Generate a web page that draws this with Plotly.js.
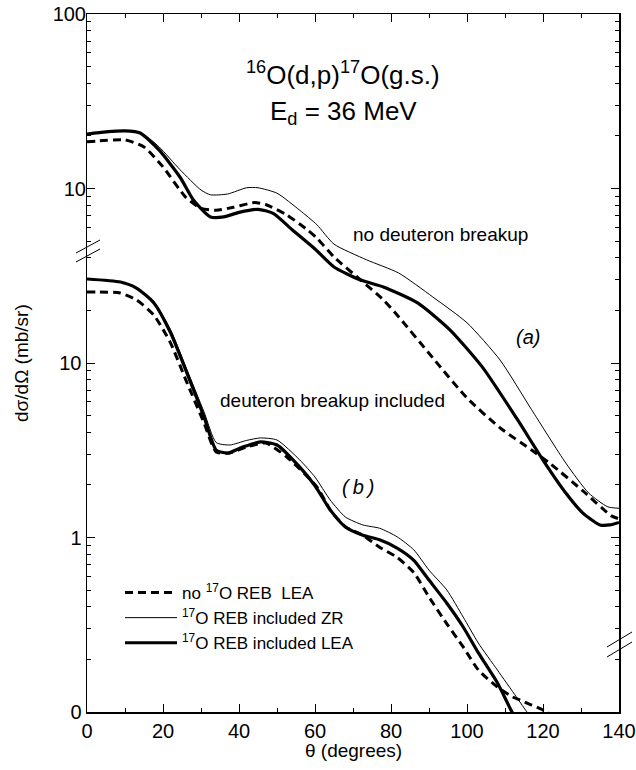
<!DOCTYPE html>
<html>
<head>
<meta charset="utf-8">
<script src="https://cdn.plot.ly/plotly-3.0.1.min.js"></script>
<style>html,body{margin:0;padding:0;background:#fff;}#chart{width:636px;height:770px;}</style>
</head>
<body>
<div id="chart"></div>
<script>
// ---- Data (theta in degrees, cross section in mb/sr) ----
// (a) no deuteron breakup  (upper scale)
const thetaA_noREB = [0, 2.6, 10, 15, 20, 26, 30, 34, 38.5, 44, 47, 52.6, 58, 60.5, 65, 72, 78, 82, 91, 100, 108.7, 117, 122, 130.5, 138, 140];
const sigA_noREB   = [18.5, 18.7, 19.0, 17.3, 13.3, 8.9, 7.7, 7.5, 7.8, 8.3, 8.1, 7.05, 5.8, 5.2, 4.05, 2.99, 2.30, 1.84, 1.07, 0.63, 0.425, 0.317, 0.264, 0.185, 0.133, 0.128];
const thetaA_ZR    = [0, 10, 15, 19, 24.5, 30, 32.5, 37, 42, 45, 50, 56, 60.5, 65, 73.6, 82, 91, 100, 108.7, 117, 126, 132, 137, 140];
const sigA_ZR      = [20.5, 21.4, 20.3, 17.3, 12.8, 9.8, 9.2, 9.3, 10.1, 10.1, 9.4, 7.5, 6.2, 4.8, 3.9, 3.28, 2.39, 1.70, 1.04, 0.54, 0.267, 0.180, 0.150, 0.147];
const thetaA_LEA   = [0, 5, 10, 14, 19, 24.5, 28, 32.5, 36, 40, 45, 49, 54, 60, 65, 72, 78, 87, 95.5, 104, 113, 120, 126, 130.5, 135, 137.6, 140];
const sigA_LEA     = [20.5, 21.1, 21.4, 20.8, 16.6, 11.6, 8.6, 6.87, 6.87, 7.3, 7.6, 7.2, 5.8, 4.5, 3.55, 2.99, 2.73, 2.21, 1.55, 0.95, 0.484, 0.278, 0.180, 0.138, 0.118, 0.118, 0.122];

// (b) deuteron breakup included (lower scale)
const thetaB_noREB = [0, 2.6, 8.7, 13, 17.6, 22, 26, 30.8, 34, 37.6, 42, 47, 52.6, 60.5, 64, 68, 72.6, 77, 81.6, 86, 90, 94.7, 99, 103, 108, 112, 114, 120, 122];
const sigB_noREB   = [25.5, 25.5, 25.2, 23.0, 18.8, 13.0, 8.0, 4.53, 3.09, 3.05, 3.30, 3.48, 2.89, 1.95, 1.44, 1.15, 1.03, 0.88, 0.77, 0.63, 0.456, 0.32, 0.236, 0.174, 0.139, 0.122, 0.117, 0.1026, 0.097];
const thetaB_ZR    = [0, 8.8, 13, 17.6, 22, 26, 30.8, 34, 37.6, 42, 45.6, 50, 56, 60, 64, 68, 72.6, 77, 81.6, 86, 90, 94.7, 99, 103, 108, 113, 116, 117];
const sigB_ZR      = [30.3, 29.1, 27.0, 22.5, 15.5, 9.5, 5.24, 3.5, 3.39, 3.6, 3.72, 3.62, 2.78, 2.22, 1.64, 1.31, 1.18, 1.13, 1.01, 0.85, 0.65, 0.50, 0.35, 0.248, 0.174, 0.122, 0.0987, 0.095];
const thetaB_LEA   = [0, 8.8, 13, 17.6, 22, 26, 30.8, 34, 37, 41, 45.6, 50, 56, 60, 64, 68, 72.6, 77, 81.6, 86, 90, 94.7, 99, 103, 108, 112, 113];
const sigB_LEA     = [30.3, 29.1, 26.9, 22.1, 14.9, 9.1, 4.91, 3.17, 3.05, 3.30, 3.53, 3.39, 2.53, 1.98, 1.44, 1.15, 1.03, 0.97, 0.87, 0.74, 0.57, 0.42, 0.307, 0.218, 0.147, 0.0987, 0.093];

// tick labels
const xTicks = [0, 20, 40, 60, 80, 100, 120, 140];
const xMinor = [10, 30, 50, 70, 90, 110, 130];
const yLowerTickVals = [0.1, 1, 10, 100, 1000];
const yLowerTickText = ['0', '1', '10', '', ''];
const yUpperTickVals = [10, 100];
const yUpperTickText = ['10', '100'];

const legendNames = ['no <sup>17</sup>O REB\u00a0 LEA', '<sup>17</sup>O REB included ZR', '<sup>17</sup>O REB included LEA'];

// ---- styling ----
const FONT = 'Liberation Sans, Arial, Helvetica, sans-serif';
const styles = [
  {color: 'black', width: 3, dash: '8px,5px'},
  {color: 'black', width: 1},
  {color: 'black', width: 3.2}
];

const yMinor = [];
[0.1, 1, 10, 100].forEach(d => { for (let k = 2; k <= 9; k++) yMinor.push(+(k * d).toPrecision(3)); });

function tr(x, y, i, yaxis, show) {
  return {x: x, y: y, type: 'scatter', mode: 'lines', yaxis: yaxis,
          line: Object.assign({shape: 'spline', smoothing: 0.6}, styles[i]),
          name: legendNames[i], legendgroup: 'g' + i, showlegend: show, hoverinfo: 'skip'};
}

const data = [
  tr(thetaA_noREB, sigA_noREB, 0, 'y2', true),
  tr(thetaA_ZR, sigA_ZR, 1, 'y2', true),
  tr(thetaA_LEA, sigA_LEA, 2, 'y2', true),
  tr(thetaB_noREB, sigB_noREB, 0, 'y', false),
  tr(thetaB_ZR, sigB_ZR, 1, 'y', false),
  tr(thetaB_LEA, sigB_LEA, 2, 'y', false)
];

// plot area in pixels: x 87..619, y 14..712
const L = 87, R = 619, T = 14, B = 712;
const px = v => (v - L) / (R - L);
const py = v => (B - v) / (B - T);
function seg(x0, y0, x1, y1) {
  return {type: 'line', xref: 'paper', yref: 'paper', x0: px(x0), y0: py(y0), x1: px(x1), y1: py(y1),
          line: {color: 'black', width: 1}};
}

const axisCommon = {showline: true, linecolor: 'black', linewidth: 1.5, mirror: 'ticks',
  ticks: 'inside', ticklen: 8, tickwidth: 1, tickcolor: 'black', showgrid: false, zeroline: false,
  tickfont: {family: FONT, size: 20, color: 'black'}};

const layout = {
  width: 636, height: 770,
  margin: {l: L, r: 636 - R, t: T, b: 770 - B},
  paper_bgcolor: 'white', plot_bgcolor: 'white',
  font: {family: FONT, color: 'black'},
  showlegend: true,
  xaxis: Object.assign({}, axisCommon, {range: [0, 140], tickmode: 'array', tickvals: xTicks,
    minor: {tickmode: 'array', tickvals: xMinor, ticks: 'inside', ticklen: 4, tickcolor: 'black', tickwidth: 1}}),
  yaxis: Object.assign({}, axisCommon, {type: 'log', range: [-1, 3], tickmode: 'array',
    tickvals: yLowerTickVals, ticktext: yLowerTickText,
    minor: {tickmode: 'array', tickvals: yMinor, ticks: 'inside', ticklen: 4, tickcolor: 'black', tickwidth: 1}}),
  yaxis2: {type: 'log', range: [-2, 2], overlaying: 'y', side: 'left', anchor: 'x',
    tickmode: 'array', tickvals: yUpperTickVals, ticktext: yUpperTickText, ticks: '',
    showline: false, showgrid: false, zeroline: false,
    tickfont: {family: FONT, size: 20, color: 'black'}},
  legend: {x: px(120), y: py(575), xanchor: 'left', yanchor: 'top', bgcolor: 'rgba(0,0,0,0)',
    font: {family: FONT, size: 17, color: 'black'}, itemwidth: 52, tracegroupgap: 0},
  annotations: [
    {text: '<sup>16</sup>O(d,p)<sup>17</sup>O(g.s.)', xref: 'paper', yref: 'paper', x: px(343), y: py(73),
      showarrow: false, font: {family: FONT, size: 26}, xanchor: 'center', yanchor: 'middle'},
    {text: 'E<sub>d</sub> = 36 MeV', xref: 'paper', yref: 'paper', x: px(343), y: py(112),
      showarrow: false, font: {family: FONT, size: 26}, xanchor: 'center', yanchor: 'middle'},
    {text: 'no deuteron breakup', xref: 'paper', yref: 'paper', x: px(440), y: py(234),
      showarrow: false, font: {family: FONT, size: 19}, xanchor: 'center', yanchor: 'middle'},
    {text: '<i>(a)</i>', xref: 'paper', yref: 'paper', x: px(528), y: py(337),
      showarrow: false, font: {family: FONT, size: 20}, xanchor: 'center', yanchor: 'middle'},
    {text: 'deuteron breakup included', xref: 'paper', yref: 'paper', x: px(332), y: py(400),
      showarrow: false, font: {family: FONT, size: 19}, xanchor: 'center', yanchor: 'middle'},
    {text: '<i>(\u2009b\u2009)</i>', xref: 'paper', yref: 'paper', x: px(358), y: py(487),
      showarrow: false, font: {family: FONT, size: 20}, xanchor: 'center', yanchor: 'middle'},
    {text: '\u03b8 (degrees)', xref: 'paper', yref: 'paper', x: px(353), y: py(750),
      showarrow: false, font: {family: FONT, size: 19}, xanchor: 'center', yanchor: 'middle'},
    {text: 'd\u03c3/d\u03a9 (mb/sr)', xref: 'paper', yref: 'paper', x: px(21), y: py(363),
      showarrow: false, font: {family: FONT, size: 19}, xanchor: 'center', yanchor: 'middle', textangle: -90}
  ],
  shapes: [
    seg(76, 253, 100, 240), seg(76, 262, 100, 249),
    seg(607, 647, 632, 632), seg(607, 657, 632, 642)
  ]
};

Plotly.newPlot('chart', data, layout, {staticPlot: true, displayModeBar: false});
</script>
</body>
</html>
